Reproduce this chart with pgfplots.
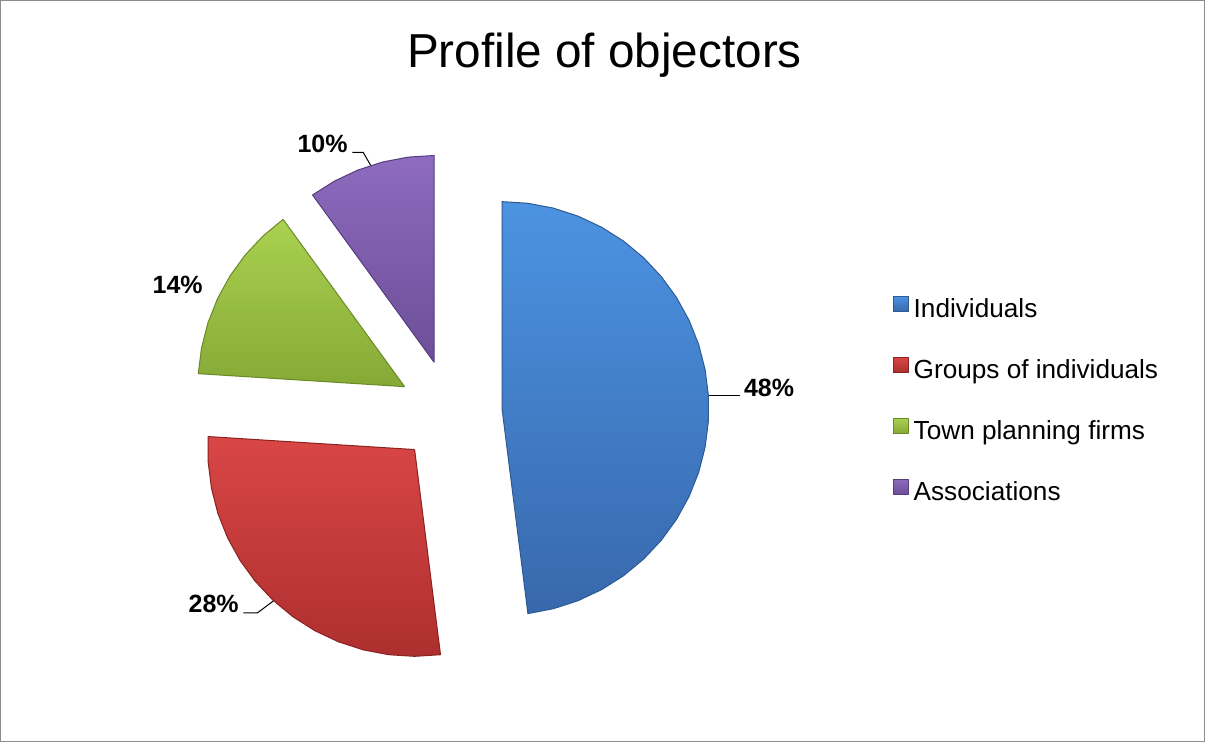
\documentclass[border=0pt]{standalone}
\usepackage{fontspec}
\setmainfont{Liberation Sans}
\usepackage{pgfplots}
\pgfplotsset{compat=1.18}

% pie geometry in picture pixels (1px = 1pt), y measured upward
\def\pcx{450}
\def\pcy{330.5}
\def\prad{207}
\def\poff{52}

\definecolor{indTop}{HTML}{4C93E2}
\definecolor{indBot}{HTML}{3868AC}
\definecolor{indEdge}{HTML}{2D5A92}
\definecolor{grpTop}{HTML}{D94646}
\definecolor{grpBot}{HTML}{AE2F2F}
\definecolor{grpEdge}{HTML}{8A2222}
\definecolor{towTop}{HTML}{AAD150}
\definecolor{towBot}{HTML}{86A936}
\definecolor{towEdge}{HTML}{6A8A28}
\definecolor{assTop}{HTML}{8E6BBE}
\definecolor{assBot}{HTML}{6C4E98}
\definecolor{assEdge}{HTML}{553C7E}

\begin{document}
\begin{tikzpicture}
\begin{axis}[
  width=1205pt, height=742pt, scale only axis,
  xmin=0, xmax=1205, ymin=0, ymax=742,
  ticks=none, clip=false,
  axis line style={draw=black!45, line width=1.2pt},
  legend image code/.code={\draw[#1] (0pt,0pt) rectangle (15pt,15pt);},
  legend cell align=left,
  legend style={at={(axis cs:893,446.6)}, anchor=north west, draw=none, fill=none,
    inner sep=0pt, outer sep=0pt, row sep=33pt, column sep=5pt,
    font=\fontsize{26.2}{31}\selectfont,
    nodes={inner sep=0pt, text height=19pt, text depth=6pt}},
]
% Individuals 48% (0 to 48), exploded along 86.4 deg
\addplot[shade, top color=indTop, bottom color=indBot, draw=indEdge, line width=1pt, line join=round]
  table[row sep=\\,
    x expr={\pcx+\poff*sin(86.4)+\thisrow{r}*\prad*sin(3.6*\thisrow{p})},
    y expr={\pcy+\poff*cos(86.4)+\thisrow{r}*\prad*cos(3.6*\thisrow{p})}]
  {p r\\ 0 0\\ 0 1\\ 2 1\\ 4 1\\ 6 1\\ 8 1\\ 10 1\\ 12 1\\ 14 1\\ 16 1\\ 18 1\\ 20 1\\ 22 1\\ 24 1\\ 26 1\\ 28 1\\ 30 1\\ 32 1\\ 34 1\\ 36 1\\ 38 1\\ 40 1\\ 42 1\\ 44 1\\ 46 1\\ 48 1\\ 48 0\\ 0 0\\};
% Groups of individuals 28% (48 to 76), exploded along 223.2 deg
\addplot[shade, top color=grpTop, bottom color=grpBot, draw=grpEdge, line width=1pt, line join=round]
  table[row sep=\\,
    x expr={\pcx+\poff*sin(223.2)+\thisrow{r}*\prad*sin(3.6*\thisrow{p})},
    y expr={\pcy+\poff*cos(223.2)+\thisrow{r}*\prad*cos(3.6*\thisrow{p})}]
  {p r\\ 48 0\\ 48 1\\ 50 1\\ 52 1\\ 54 1\\ 56 1\\ 58 1\\ 60 1\\ 62 1\\ 64 1\\ 66 1\\ 68 1\\ 70 1\\ 72 1\\ 74 1\\ 76 1\\ 76 0\\ 48 0\\};
% Town planning firms 14% (76 to 90), exploded along 298.8 deg
\addplot[shade, top color=towTop, bottom color=towBot, draw=towEdge, line width=1pt, line join=round]
  table[row sep=\\,
    x expr={\pcx+\poff*sin(298.8)+\thisrow{r}*\prad*sin(3.6*\thisrow{p})},
    y expr={\pcy+\poff*cos(298.8)+\thisrow{r}*\prad*cos(3.6*\thisrow{p})}]
  {p r\\ 76 0\\ 76 1\\ 78 1\\ 80 1\\ 82 1\\ 84 1\\ 86 1\\ 88 1\\ 90 1\\ 90 0\\ 76 0\\};
% Associations 10% (90 to 100), exploded along 342 deg
\addplot[shade, top color=assTop, bottom color=assBot, draw=assEdge, line width=1pt, line join=round]
  table[row sep=\\,
    x expr={\pcx+\poff*sin(342)+\thisrow{r}*\prad*sin(3.6*\thisrow{p})},
    y expr={\pcy+\poff*cos(342)+\thisrow{r}*\prad*cos(3.6*\thisrow{p})}]
  {p r\\ 90 0\\ 90 1\\ 92 1\\ 94 1\\ 96 1\\ 98 1\\ 100 1\\ 100 0\\ 90 0\\};
\legend{Individuals, Groups of individuals, Town planning firms, Associations}

% title
\node[anchor=base, inner sep=0pt, font=\fontsize{47.7}{57}\selectfont] at (axis cs:604.5,675) {Profile of objectors};

% data labels and leader lines
\draw[black, line width=1pt] (axis cs:709,346.5) -- (axis cs:740,346.5);
\draw[black, line width=1pt] (axis cs:273,141) -- (axis cs:257,129) -- (axis cs:243,129);
\draw[black, line width=1pt] (axis cs:370.5,577) -- (axis cs:363,590) -- (axis cs:352,590);
\begin{scope}[every node/.style={anchor=base west, inner sep=0pt, font=\fontsize{25}{30}\selectfont\bfseries}]
\node at (axis cs:744,346) {48\%};
\node at (axis cs:188,129) {28\%};
\node at (axis cs:152,449) {14\%};
\node at (axis cs:297,590) {10\%};
\end{scope}
\end{axis}
\end{tikzpicture}
\end{document}
